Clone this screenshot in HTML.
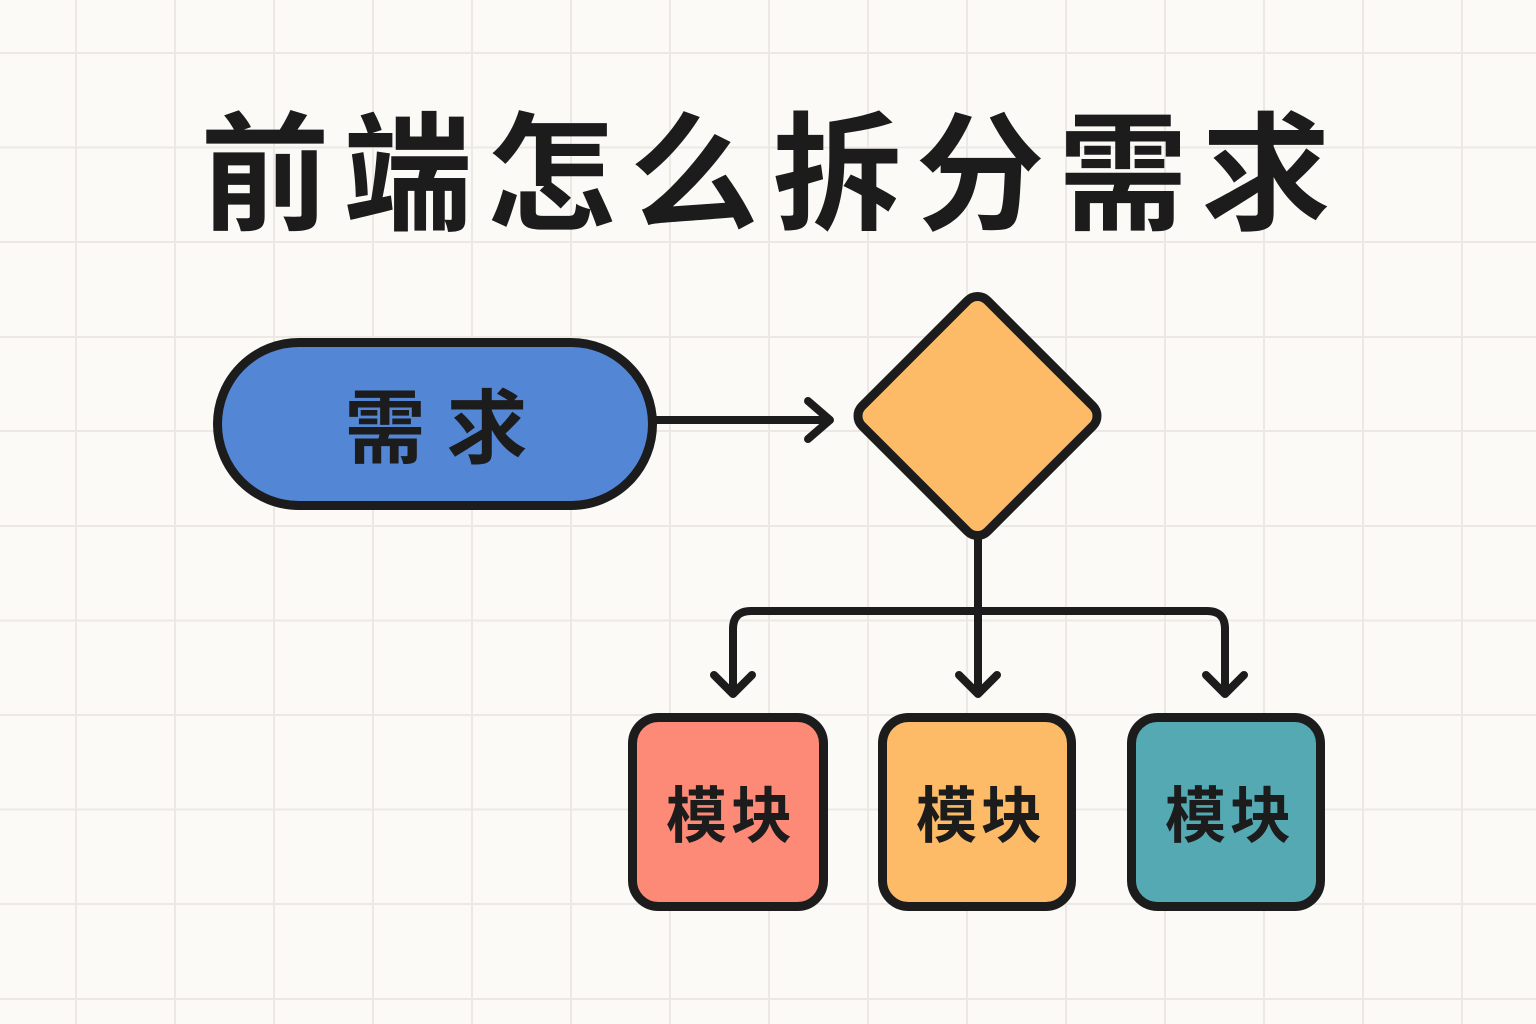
<!DOCTYPE html>
<html>
<head>
<meta charset="utf-8">
<style>
  html,body{margin:0;padding:0;background:#fbfaf7;}
  svg{display:block;}
  text{font-family:"Liberation Sans","Noto Sans CJK SC","WenQuanYi Zen Hei",sans-serif;fill:#1c1c1c;}
</style>
</head>
<body>
<svg width="1536" height="1024" viewBox="0 0 1536 1024" xmlns="http://www.w3.org/2000/svg">
  <rect x="0" y="0" width="1536" height="1024" fill="#fbfaf7"/>
  <g stroke="#ece9e5" stroke-width="2">
    <line x1="76" y1="0" x2="76" y2="1024"/>
    <line x1="175" y1="0" x2="175" y2="1024"/>
    <line x1="274" y1="0" x2="274" y2="1024"/>
    <line x1="373" y1="0" x2="373" y2="1024"/>
    <line x1="472" y1="0" x2="472" y2="1024"/>
    <line x1="571" y1="0" x2="571" y2="1024"/>
    <line x1="670" y1="0" x2="670" y2="1024"/>
    <line x1="769" y1="0" x2="769" y2="1024"/>
    <line x1="868" y1="0" x2="868" y2="1024"/>
    <line x1="967" y1="0" x2="967" y2="1024"/>
    <line x1="1066" y1="0" x2="1066" y2="1024"/>
    <line x1="1165" y1="0" x2="1165" y2="1024"/>
    <line x1="1264" y1="0" x2="1264" y2="1024"/>
    <line x1="1363" y1="0" x2="1363" y2="1024"/>
    <line x1="1462" y1="0" x2="1462" y2="1024"/>
    <line x1="0" y1="53" x2="1536" y2="53"/>
    <line x1="0" y1="147.5" x2="1536" y2="147.5"/>
    <line x1="0" y1="242" x2="1536" y2="242"/>
    <line x1="0" y1="337" x2="1536" y2="337"/>
    <line x1="0" y1="431" x2="1536" y2="431"/>
    <line x1="0" y1="526" x2="1536" y2="526"/>
    <line x1="0" y1="620.5" x2="1536" y2="620.5"/>
    <line x1="0" y1="715" x2="1536" y2="715"/>
    <line x1="0" y1="809.5" x2="1536" y2="809.5"/>
    <line x1="0" y1="904" x2="1536" y2="904"/>
    <line x1="0" y1="999" x2="1536" y2="999"/>
  </g>

  <!-- Title -->
  <text x="772.5" y="220" text-anchor="middle" font-size="129" font-weight="700" letter-spacing="14">前端怎么拆分需求</text>

  <!-- Connectors -->
  <g stroke="#1c1c1c" stroke-width="8" fill="none" stroke-linecap="round" stroke-linejoin="round">
    <line x1="655" y1="420" x2="829" y2="420"/>
    <polyline points="808,401 830,420 808,439"/>
    <line x1="978" y1="538" x2="978" y2="692"/>
    <polyline points="959,675 978,694 997,675"/>
    <path d="M733,692 V629 Q733,611 751,611 H1207 Q1225,611 1225,629 V692"/>
    <polyline points="714,675 733,694 752,675"/>
    <polyline points="1206,675 1225,694 1244,675"/>
  </g>

  <!-- Pill -->
  <rect x="217.5" y="342.5" width="435" height="163" rx="81.5" fill="#5486d6" stroke="#1c1c1c" stroke-width="9"/>
  <text x="385" y="457" text-anchor="middle" font-size="81" font-weight="700">需</text>
  <text x="487" y="457" text-anchor="middle" font-size="81" font-weight="700">求</text>

  <!-- Diamond -->
  <rect x="-88.6" y="-88.6" width="177.2" height="177.2" rx="14" fill="#fdbb68" stroke="#1c1c1c" stroke-width="9" transform="translate(977.5,416) rotate(45)"/>

  <!-- Module boxes -->
  <rect x="632.5" y="717.5" width="191" height="189" rx="26" fill="#fd8a77" stroke="#1c1c1c" stroke-width="9"/>
  <rect x="882.5" y="717.5" width="189" height="189" rx="26" fill="#fdbb68" stroke="#1c1c1c" stroke-width="9"/>
  <rect x="1131.5" y="717.5" width="189" height="189" rx="26" fill="#55a9b3" stroke="#1c1c1c" stroke-width="9"/>
  <text x="731" y="837" text-anchor="middle" font-size="61" font-weight="700" letter-spacing="4">模块</text>
  <text x="981" y="837" text-anchor="middle" font-size="61" font-weight="700" letter-spacing="4">模块</text>
  <text x="1230" y="837" text-anchor="middle" font-size="61" font-weight="700" letter-spacing="4">模块</text>
</svg>
</body>
</html>
